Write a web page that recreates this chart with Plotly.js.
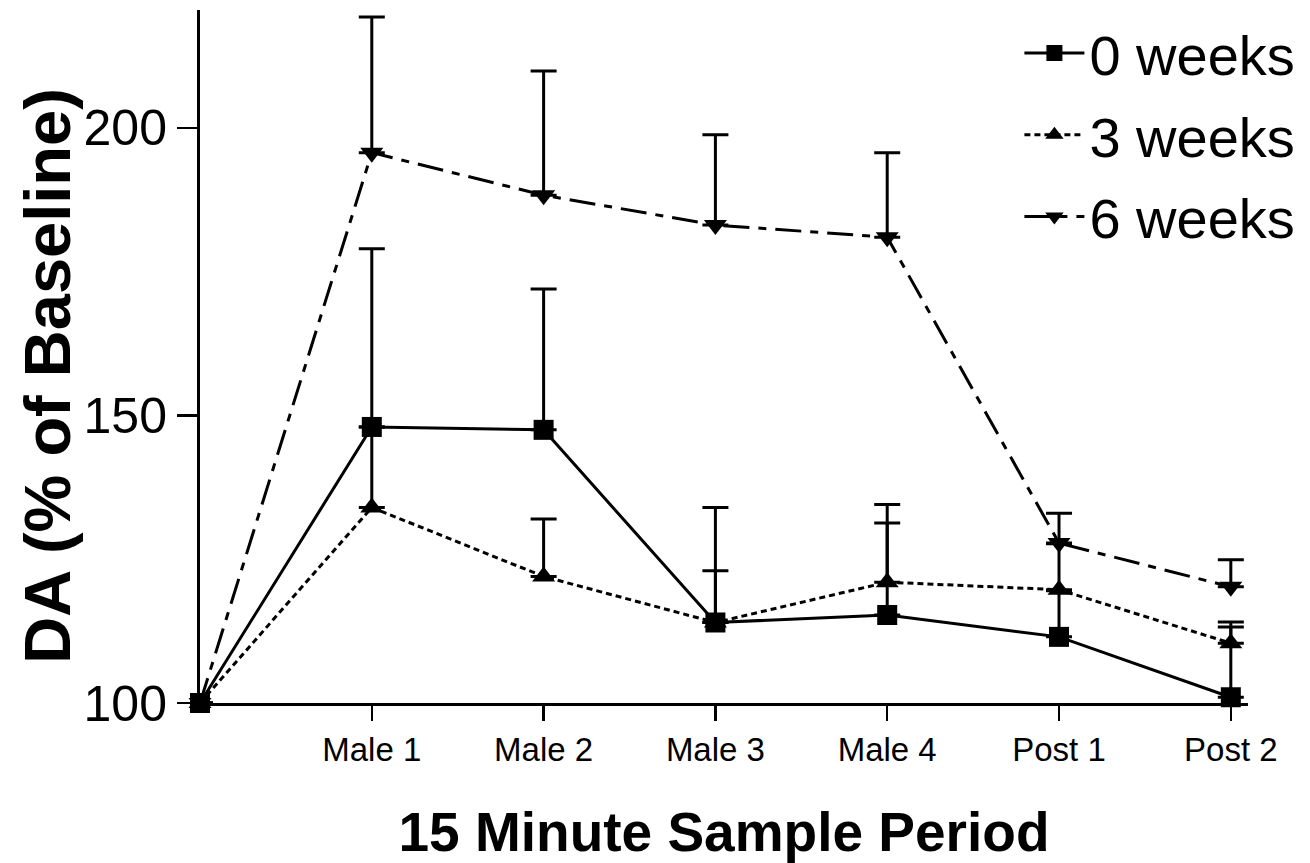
<!DOCTYPE html>
<html>
<head>
<meta charset="utf-8">
<script src="https://cdn.plot.ly/plotly-3.0.1.min.js"></script>
<style>html,body{margin:0;padding:0;background:#fff;}#chart{width:1310px;height:863px;}</style>
</head>
<body>
<div id="chart"></div>
<script>
// Sample periods (0 = baseline, unlabeled)
const periods = [0, 1, 2, 3, 4, 5, 6];
const tickPositions = [1, 2, 3, 4, 5, 6];
const tickLabels = ["Male 1", "Male 2", "Male 3", "Male 4", "Post 1", "Post 2"];

// DA (% of baseline), means
const weeks0 = [100, 148, 147.5, 114, 115.3, 111.5, 101];
const weeks3 = [100, 134, 122, 114, 121, 119.7, 110.4];
const weeks6 = [100, 195.7, 188.3, 183.1, 181, 127.8, 120.2];

// upward error bars (SEM)
const err0 = [0, 31, 24.5, 20, 16, 8, 12.2];
const err3 = [0, 14, 10, 9, 13.5, 8, 3.7];
const err6 = [0, 23.6, 21.6, 15.7, 14.7, 5.2, 4.7];

const seriesNames = ["0 weeks", "3 weeks", "6 weeks"];
const yTitle = "DA (% of Baseline)";
const xTitle = "15 Minute Sample Period";

const FONT = "Arial, 'Liberation Sans', sans-serif";

function mkTrace(y, err, name, symbol, size, dash, rank) {
  return {
    x: periods, y: y, name: name, type: "scatter", mode: "lines+markers",
    legendrank: rank, legendgroup: name,
    line: {color: "#000", width: 3, dash: dash},
    marker: {symbol: symbol, size: size, color: "#000", line: {width: 0}},
    error_y: {type: "data", symmetric: false, array: err,
              arrayminus: err.map(() => 0), color: "#000", thickness: 3, width: 13},
    cliponaxis: false
  };
}

const data = [
  mkTrace(weeks6, err6, seriesNames[2], "triangle-down", 20, "26px,9px,8px,9px", 3),
  mkTrace(weeks3, err3, seriesNames[1], "triangle-up", 20, "6px,4px", 2),
  mkTrace(weeks0, err0, seriesNames[0], "square", 20, "solid", 1)
];

const layout = {
  width: 1310, height: 863,
  paper_bgcolor: "#fff", plot_bgcolor: "#fff",
  margin: {l: 200, r: 57, t: 10, b: 160},
  font: {family: FONT, color: "#000"},
  showlegend: true,
  legend: {
    x: 1.05, xanchor: "right", y: 1.0, yanchor: "top",
    font: {family: FONT, size: 56, color: "#000"},
    bgcolor: "rgba(0,0,0,0)", borderwidth: 0,
    itemwidth: 60, tracegroupgap: 6
  },
  xaxis: {
    range: [0, 6.1],
    tickvals: tickPositions, ticktext: tickLabels,
    ticks: "outside", ticklen: 15, tickwidth: 2.5, tickcolor: "#000",
    showline: true, linecolor: "#000", linewidth: 3,
    showgrid: false, zeroline: false,
    tickfont: {family: FONT, size: 33, color: "#000"},
    title: {text: "<b>" + xTitle + "</b>", font: {family: FONT, size: 55, color: "#000"}, standoff: 48}
  },
  yaxis: {
    range: [100, 220.5],
    tickvals: [100, 150, 200],
    ticks: "outside", ticklen: 20, tickwidth: 2.5, tickcolor: "#000",
    showline: true, linecolor: "#000", linewidth: 3,
    showgrid: false, zeroline: false,
    tickfont: {family: FONT, size: 50, color: "#000"}
  },
  annotations: [{
    text: "<b>" + yTitle + "</b>", textangle: -90,
    xref: "paper", yref: "paper", x: -0.1453, y: 0.472,
    xanchor: "center", yanchor: "middle", showarrow: false,
    font: {family: FONT, size: 65, color: "#000"}
  }]
};

Plotly.newPlot("chart", data, layout, {displayModeBar: false, staticPlot: true});
</script>
</body>
</html>
